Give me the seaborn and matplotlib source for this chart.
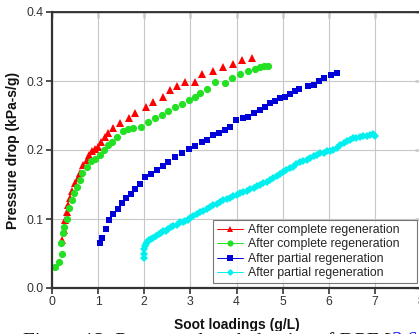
import matplotlib
matplotlib.use("Agg")
import matplotlib.pyplot as plt
from matplotlib.lines import Line2D
import seaborn as sns
import pandas as pd

# ---------------- data ----------------
red_x = [0.21, 0.25, 0.28, 0.32, 0.35, 0.40, 0.43, 0.50, 0.57, 0.61, 0.68, 0.75, 0.81, 0.86,
         0.93, 1.00, 1.06, 1.15, 1.22, 1.33, 1.48, 1.66, 1.80, 2.04, 2.20, 2.41, 2.56, 2.70,
         2.89, 3.10, 3.25, 3.48, 3.70, 3.92, 4.11, 4.33]
red_y = [0.070, 0.084, 0.098, 0.110, 0.120, 0.130, 0.140, 0.152, 0.160, 0.166, 0.178, 0.186,
         0.193, 0.199, 0.202, 0.205, 0.211, 0.219, 0.225, 0.232, 0.239, 0.247, 0.253, 0.262,
         0.270, 0.277, 0.287, 0.293, 0.299, 0.299, 0.310, 0.314, 0.320, 0.325, 0.330, 0.334]

green_x = [0.065, 0.15, 0.21, 0.19, 0.23, 0.26, 0.32, 0.375, 0.43, 0.48, 0.55, 0.61, 0.66, 0.75,
           0.84, 0.93, 1.04, 1.13, 1.22, 1.29, 1.40, 1.54, 1.65, 1.76, 1.94, 2.09, 2.23, 2.38,
           2.52, 2.67, 2.81, 2.96, 3.10, 3.21, 3.36, 3.54, 3.75, 3.90, 4.08, 4.26, 4.40, 4.51,
           4.60, 4.69]
green_y = [0.030, 0.038, 0.050, 0.065, 0.080, 0.089, 0.100, 0.116, 0.127, 0.137, 0.146, 0.157,
           0.167, 0.176, 0.184, 0.187, 0.193, 0.200, 0.207, 0.212, 0.219, 0.227, 0.230, 0.232,
           0.234, 0.241, 0.246, 0.251, 0.256, 0.262, 0.267, 0.272, 0.277, 0.282, 0.289, 0.298,
           0.297, 0.305, 0.310, 0.315, 0.318, 0.321, 0.322, 0.322]

blue_x = [1.04, 1.09, 1.17, 1.24, 1.33, 1.44, 1.51, 1.61, 1.71, 1.80, 1.91, 2.02, 2.14, 2.27,
          2.40, 2.52, 2.67, 2.81, 2.96, 3.10, 3.25, 3.37, 3.50, 3.61, 3.75, 3.86, 3.99, 4.15,
          4.26, 4.38, 4.50, 4.61, 4.73, 4.84, 4.95, 5.05, 5.15, 5.26, 5.36, 5.54, 5.67, 5.78,
          5.90, 6.05, 6.18]
blue_y = [0.065, 0.072, 0.086, 0.099, 0.107, 0.115, 0.123, 0.130, 0.136, 0.143, 0.151, 0.161,
          0.165, 0.171, 0.177, 0.183, 0.190, 0.195, 0.201, 0.206, 0.212, 0.215, 0.222, 0.225,
          0.229, 0.234, 0.244, 0.247, 0.248, 0.253, 0.258, 0.263, 0.268, 0.271, 0.275, 0.277,
          0.281, 0.285, 0.288, 0.293, 0.294, 0.300, 0.305, 0.309, 0.311]

cyan_x = [2.00, 2.00, 2.00, 2.01, 2.03, 2.06, 2.10, 2.15, 2.20, 2.25, 2.31, 2.36, 2.41, 2.47,
          2.52, 2.58, 2.63, 2.70, 2.78, 2.84, 2.89, 2.94, 2.99, 3.06, 3.14, 3.21, 3.28, 3.36,
          3.43, 3.50, 3.57, 3.64, 3.71, 3.79, 3.86, 3.93, 4.00, 4.08, 4.15, 4.22, 4.30, 4.37,
          4.44, 4.51, 4.58, 4.66, 4.73, 4.80, 4.87, 4.94, 5.01, 5.08, 5.16, 5.23, 5.30, 5.38,
          5.45, 5.52, 5.60, 5.67, 5.74, 5.81, 5.89, 5.96, 6.03, 6.10, 6.17, 6.25, 6.32, 6.39,
          6.46, 6.53, 6.60, 6.68, 6.75, 6.82, 6.90, 6.96, 7.00]
cyan_y = [0.044, 0.050, 0.056, 0.061, 0.064, 0.067, 0.069, 0.071, 0.072, 0.075, 0.078, 0.080,
          0.082, 0.083, 0.085, 0.088, 0.090, 0.092, 0.095, 0.096, 0.097, 0.099, 0.101, 0.104,
          0.107, 0.110, 0.112, 0.115, 0.117, 0.120, 0.122, 0.125, 0.127, 0.129, 0.131, 0.133,
          0.135, 0.137, 0.139, 0.141, 0.143, 0.145, 0.148, 0.150, 0.152, 0.154, 0.157, 0.160,
          0.162, 0.165, 0.168, 0.171, 0.174, 0.176, 0.179, 0.182, 0.184, 0.186, 0.189, 0.191,
          0.193, 0.195, 0.196, 0.198, 0.199, 0.200, 0.203, 0.207, 0.210, 0.213, 0.215, 0.217,
          0.218, 0.219, 0.220, 0.221, 0.222, 0.223, 0.221]

labels = ["After complete regeneration", "After complete regeneration",
          "After partial regeneration", "After partial regeneration"]
x_ticks = [0, 1, 2, 3, 4, 5, 6, 7, 8]
y_ticks = [0.0, 0.1, 0.2, 0.3, 0.4]
x_label = "Soot loadings (g/L)"
y_label = "Pressure drop (kPa-s/g)"
caption_main = "Figure 12. Pressure drop behavior of DPF ["
caption_ref = "3,6"

# ---------------- style ----------------
sns.set_theme(style="white")
plt.rcParams["font.family"] = ["Liberation Sans", "DejaVu Sans"]

fig = plt.figure(figsize=(4.19, 3.34), dpi=100)
ax = fig.add_axes([52 / 419, 1 - 288 / 334, 369 / 419, 276 / 334])

series = [
    (red_x, red_y, "^", "#ff0000", 5.8),
    (green_x, green_y, "o", "#22e022", 5.2),
    (blue_x, blue_y, "s", "#0000d8", 4.4),
    (cyan_x, cyan_y, "D", "#00f0f0", 4.2),
]
handles = []
for (xs, ys, mk, col, ms), lab in zip(series, labels):
    df = pd.DataFrame({"x": xs, "y": ys})
    sns.lineplot(data=df, x="x", y="y", ax=ax, sort=False, estimator=None,
                 color=col, linewidth=0, marker=mk, markersize=ms,
                 markeredgewidth=0, markeredgecolor=col, legend=False)
    handles.append(Line2D([], [], color=col, linewidth=0.7, marker=mk,
                          markersize=ms * 0.85, markeredgewidth=0, label=lab))

ax.set_xlim(0, 8)
ax.set_ylim(0, 0.4)
ax.set_xticks(x_ticks)
ax.set_yticks(y_ticks)
ax.set_xticklabels([str(t) for t in x_ticks])
ax.set_yticklabels([f"{t:.1f}" for t in y_ticks])
ax.grid(True, color="#c8c8c8", linewidth=0.8)
ax.tick_params(axis="both", which="major", direction="out", length=4, width=1.2,
               labelsize=8.8, colors="#333333", pad=2, bottom=True, left=True)
for s in ax.spines.values():
    s.set_color("#333333")
    s.set_linewidth(1.0)
ax.spines["left"].set_linewidth(1.6)
ax.spines["bottom"].set_linewidth(1.6)

top = ax.secondary_xaxis("top")
top.set_xticks(x_ticks)
top.tick_params(direction="in", length=4, width=1.0, labeltop=False, colors="#333333")
right = ax.secondary_yaxis("right")
right.set_yticks(y_ticks)
right.tick_params(direction="in", length=4, width=1.0, labelright=False, colors="#333333")

ax.set_xlabel(x_label, fontsize=10, fontweight="bold", labelpad=7, color="#111111")
ax.set_ylabel(y_label, fontsize=10, fontweight="bold", labelpad=5, color="#111111")

leg = ax.legend(handles=handles, loc="lower left",
                bbox_to_anchor=(0.436, 0.018, 0.553, 0.254),
                mode="expand", fontsize=8.8, frameon=True, fancybox=False,
                handlelength=2.2, handletextpad=0.35, borderpad=0.3, labelspacing=0.2,
                borderaxespad=0)
leg.get_frame().set_edgecolor("#555555")
leg.get_frame().set_linewidth(0.8)

# caption (mostly cropped at the bottom of the image)
cap_y = 1 - 332 / 334
t1 = fig.text(23 / 419, cap_y, caption_main, fontsize=15.3,
              family=["Liberation Serif", "DejaVu Serif"], va="top", ha="left",
              color="#111111",
              bbox=dict(facecolor="white", edgecolor="none", pad=0.5))
fig.canvas.draw()
bb = t1.get_window_extent(renderer=fig.canvas.get_renderer())
fig.text(bb.x1 / 419 + 0.003, cap_y, caption_ref, fontsize=15.3,
         family=["Liberation Serif", "DejaVu Serif"], va="top", ha="left", color="#1a1aff")

fig.savefig("out.png", dpi=100)
